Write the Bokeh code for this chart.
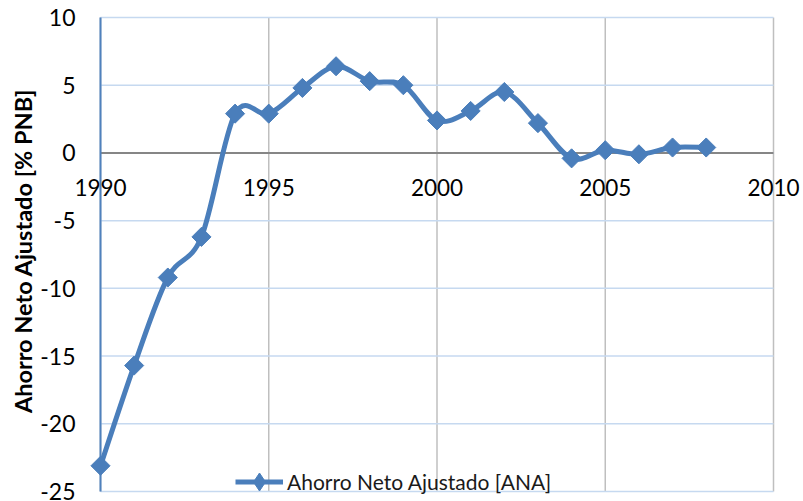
import numpy as np
from bokeh.plotting import figure
from bokeh.models import (Range1d, FixedTicker, ColumnDataSource,
                          Legend, LegendItem)
from bokeh.embed import file_html
from bokeh.resources import INLINE

# ---- data ----
years = [1990, 1991, 1992, 1993, 1994, 1995, 1996, 1997, 1998, 1999,
         2000, 2001, 2002, 2003, 2004, 2005, 2006, 2007, 2008]
ana = [-23.1, -15.7, -9.2, -6.2, 2.9, 2.9, 4.8, 6.4, 5.3, 5.0,
       2.4, 3.1, 4.5, 2.2, -0.4, 0.2, -0.1, 0.4, 0.4]
series_name = "Ahorro Neto Ajustado [ANA]"
y_title = "Ahorro Neto Ajustado [% PNB]"
x_ticks = [1990, 1995, 2000, 2005, 2010]
x_tick_labels = ["1990", "1995", "2000", "2005", "2010"]
y_ticks = [-25, -20, -15, -10, -5, 0, 5, 10]
y_tick_labels = ["-25", "-20", "-15", "-10", "-5", "0", "5", "10"]

BLUE = "#4a7ebb"
FONT = "Lato"

# ---- layout (pixels) ----
W, H = 803, 501
PLOT_L, PLOT_R, PLOT_T, PLOT_B = 100, 773, 17, 491   # plot-area edges on the canvas

x0d, x1d = x_ticks[0], x_ticks[-1]
y0d, y1d = y_ticks[0], y_ticks[-1]
sx = (PLOT_R - PLOT_L) / (x1d - x0d)
sy = (PLOT_B - PLOT_T) / (y1d - y0d)
x_range = Range1d(x0d - PLOT_L / sx, x1d + (W - PLOT_R) / sx)
y_range = Range1d(y0d - (H - PLOT_B) / sy, y1d + PLOT_T / sy)

# smoothed line (Bezier segments computed from the data, like a spreadsheet "smoothed line")
xs = np.array(years, dtype=float)
ys = np.array(ana, dtype=float)
n = len(xs)
t = 1.0 / 6.0
seg = dict(x0=[], y0=[], x1=[], y1=[], cx0=[], cy0=[], cx1=[], cy1=[])
for i in range(n - 1):
    i0 = max(i - 1, 0)
    i3 = min(i + 2, n - 1)
    seg["x0"].append(xs[i]); seg["y0"].append(ys[i])
    seg["x1"].append(xs[i + 1]); seg["y1"].append(ys[i + 1])
    seg["cx0"].append(xs[i] + (xs[i + 1] - xs[i0]) * t)
    seg["cy0"].append(ys[i] + (ys[i + 1] - ys[i0]) * t)
    seg["cx1"].append(xs[i + 1] - (xs[i3] - xs[i]) * t)
    seg["cy1"].append(ys[i + 1] - (ys[i3] - ys[i]) * t)
seg_src = ColumnDataSource(seg)

p = figure(width=W, height=H, output_backend="svg", toolbar_location=None,
           x_range=x_range, y_range=y_range,
           min_border_left=0, min_border_right=0, min_border_top=0,
           min_border_bottom=0)
p.outline_line_color = None
p.background_fill_color = "white"
p.border_fill_color = "white"
p.xgrid.visible = False
p.ygrid.visible = False

# x axis sits at y = 0
p.xaxis.fixed_location = 0
p.xaxis.ticker = FixedTicker(ticks=x_ticks)
p.xaxis.major_label_overrides = dict(zip(x_ticks, x_tick_labels))
p.xaxis.axis_line_color = None
p.xaxis.major_tick_line_color = None
p.xaxis.minor_tick_line_color = None
p.xaxis.major_tick_out = 0
p.xaxis.major_tick_in = 0
p.xaxis.major_label_standoff = 26
p.xaxis.major_label_text_font = FONT
p.xaxis.major_label_text_font_size = "22.5px"
p.xaxis.major_label_text_color = "black"

# y axis sits at x = 1990
p.yaxis.fixed_location = x0d
p.yaxis.ticker = FixedTicker(ticks=y_ticks)
p.yaxis.major_label_overrides = dict(zip(y_ticks, y_tick_labels))
p.yaxis.axis_line_color = None
p.yaxis.major_tick_line_color = None
p.yaxis.minor_tick_line_color = None
p.yaxis.major_tick_out = 0
p.yaxis.major_tick_in = 0
p.yaxis.major_label_standoff = 25
p.yaxis.major_label_text_font = FONT
p.yaxis.major_label_text_font_size = "23px"
p.yaxis.major_label_text_color = "black"
p.yaxis.axis_label = y_title
p.yaxis.axis_label_text_font = FONT
p.yaxis.axis_label_text_font_style = "bold"
p.yaxis.axis_label_text_font_size = "23.5px"
p.yaxis.axis_label_text_color = "black"
p.yaxis.axis_label_standoff = 0

# grid lines within the plot area
p.segment(x0=x_ticks, y0=[y0d] * len(x_ticks), x1=x_ticks, y1=[y1d] * len(x_ticks),
          line_color="#bfbfbf", line_width=1.5)
p.segment(x0=[x0d] * len(y_ticks), y0=y_ticks, x1=[x1d] * len(y_ticks), y1=y_ticks,
          line_color="#c6d9f0", line_width=1.5)
# axis lines (drawn under the data)
p.segment(x0=[x0d], y0=[0], x1=[x1d], y1=[0], line_color="#868686", line_width=2)
p.segment(x0=[x0d], y0=[y0d], x1=[x0d], y1=[y1d], line_color="#4f81bd", line_width=2)

# data
p.bezier(x0="x0", y0="y0", x1="x1", y1="y1", cx0="cx0", cy0="cy0",
         cx1="cx1", cy1="cy1", source=seg_src, line_color=BLUE,
         line_width=5, line_cap="round")
p.scatter(years, ana, marker="square", size=13.5, angle=np.pi / 4,
          fill_color=BLUE, line_color=BLUE)

# legend (renderers with a single NaN row: they draw nothing but give the legend its glyph)
nan_src = ColumnDataSource(dict(x=np.array([np.nan]), y=np.array([np.nan])))
leg_line = p.line(x="x", y="y", source=nan_src, line_color=BLUE, line_width=5)
leg_mark = p.scatter(x="x", y="y", source=nan_src, marker="diamond", size=20,
                     fill_color=BLUE, line_color=BLUE)
legend = Legend(items=[LegendItem(label=series_name, renderers=[leg_line, leg_mark])],
                location=(235, -3), orientation="horizontal", glyph_width=48,
                glyph_height=45, label_standoff=4, padding=0, margin=0,
                border_line_color=None, background_fill_alpha=0,
                label_text_font=FONT, label_text_font_size="21px",
                label_text_color="#1a1a1a")
p.add_layout(legend)

open("out.html", "w").write(file_html(p, INLINE))
